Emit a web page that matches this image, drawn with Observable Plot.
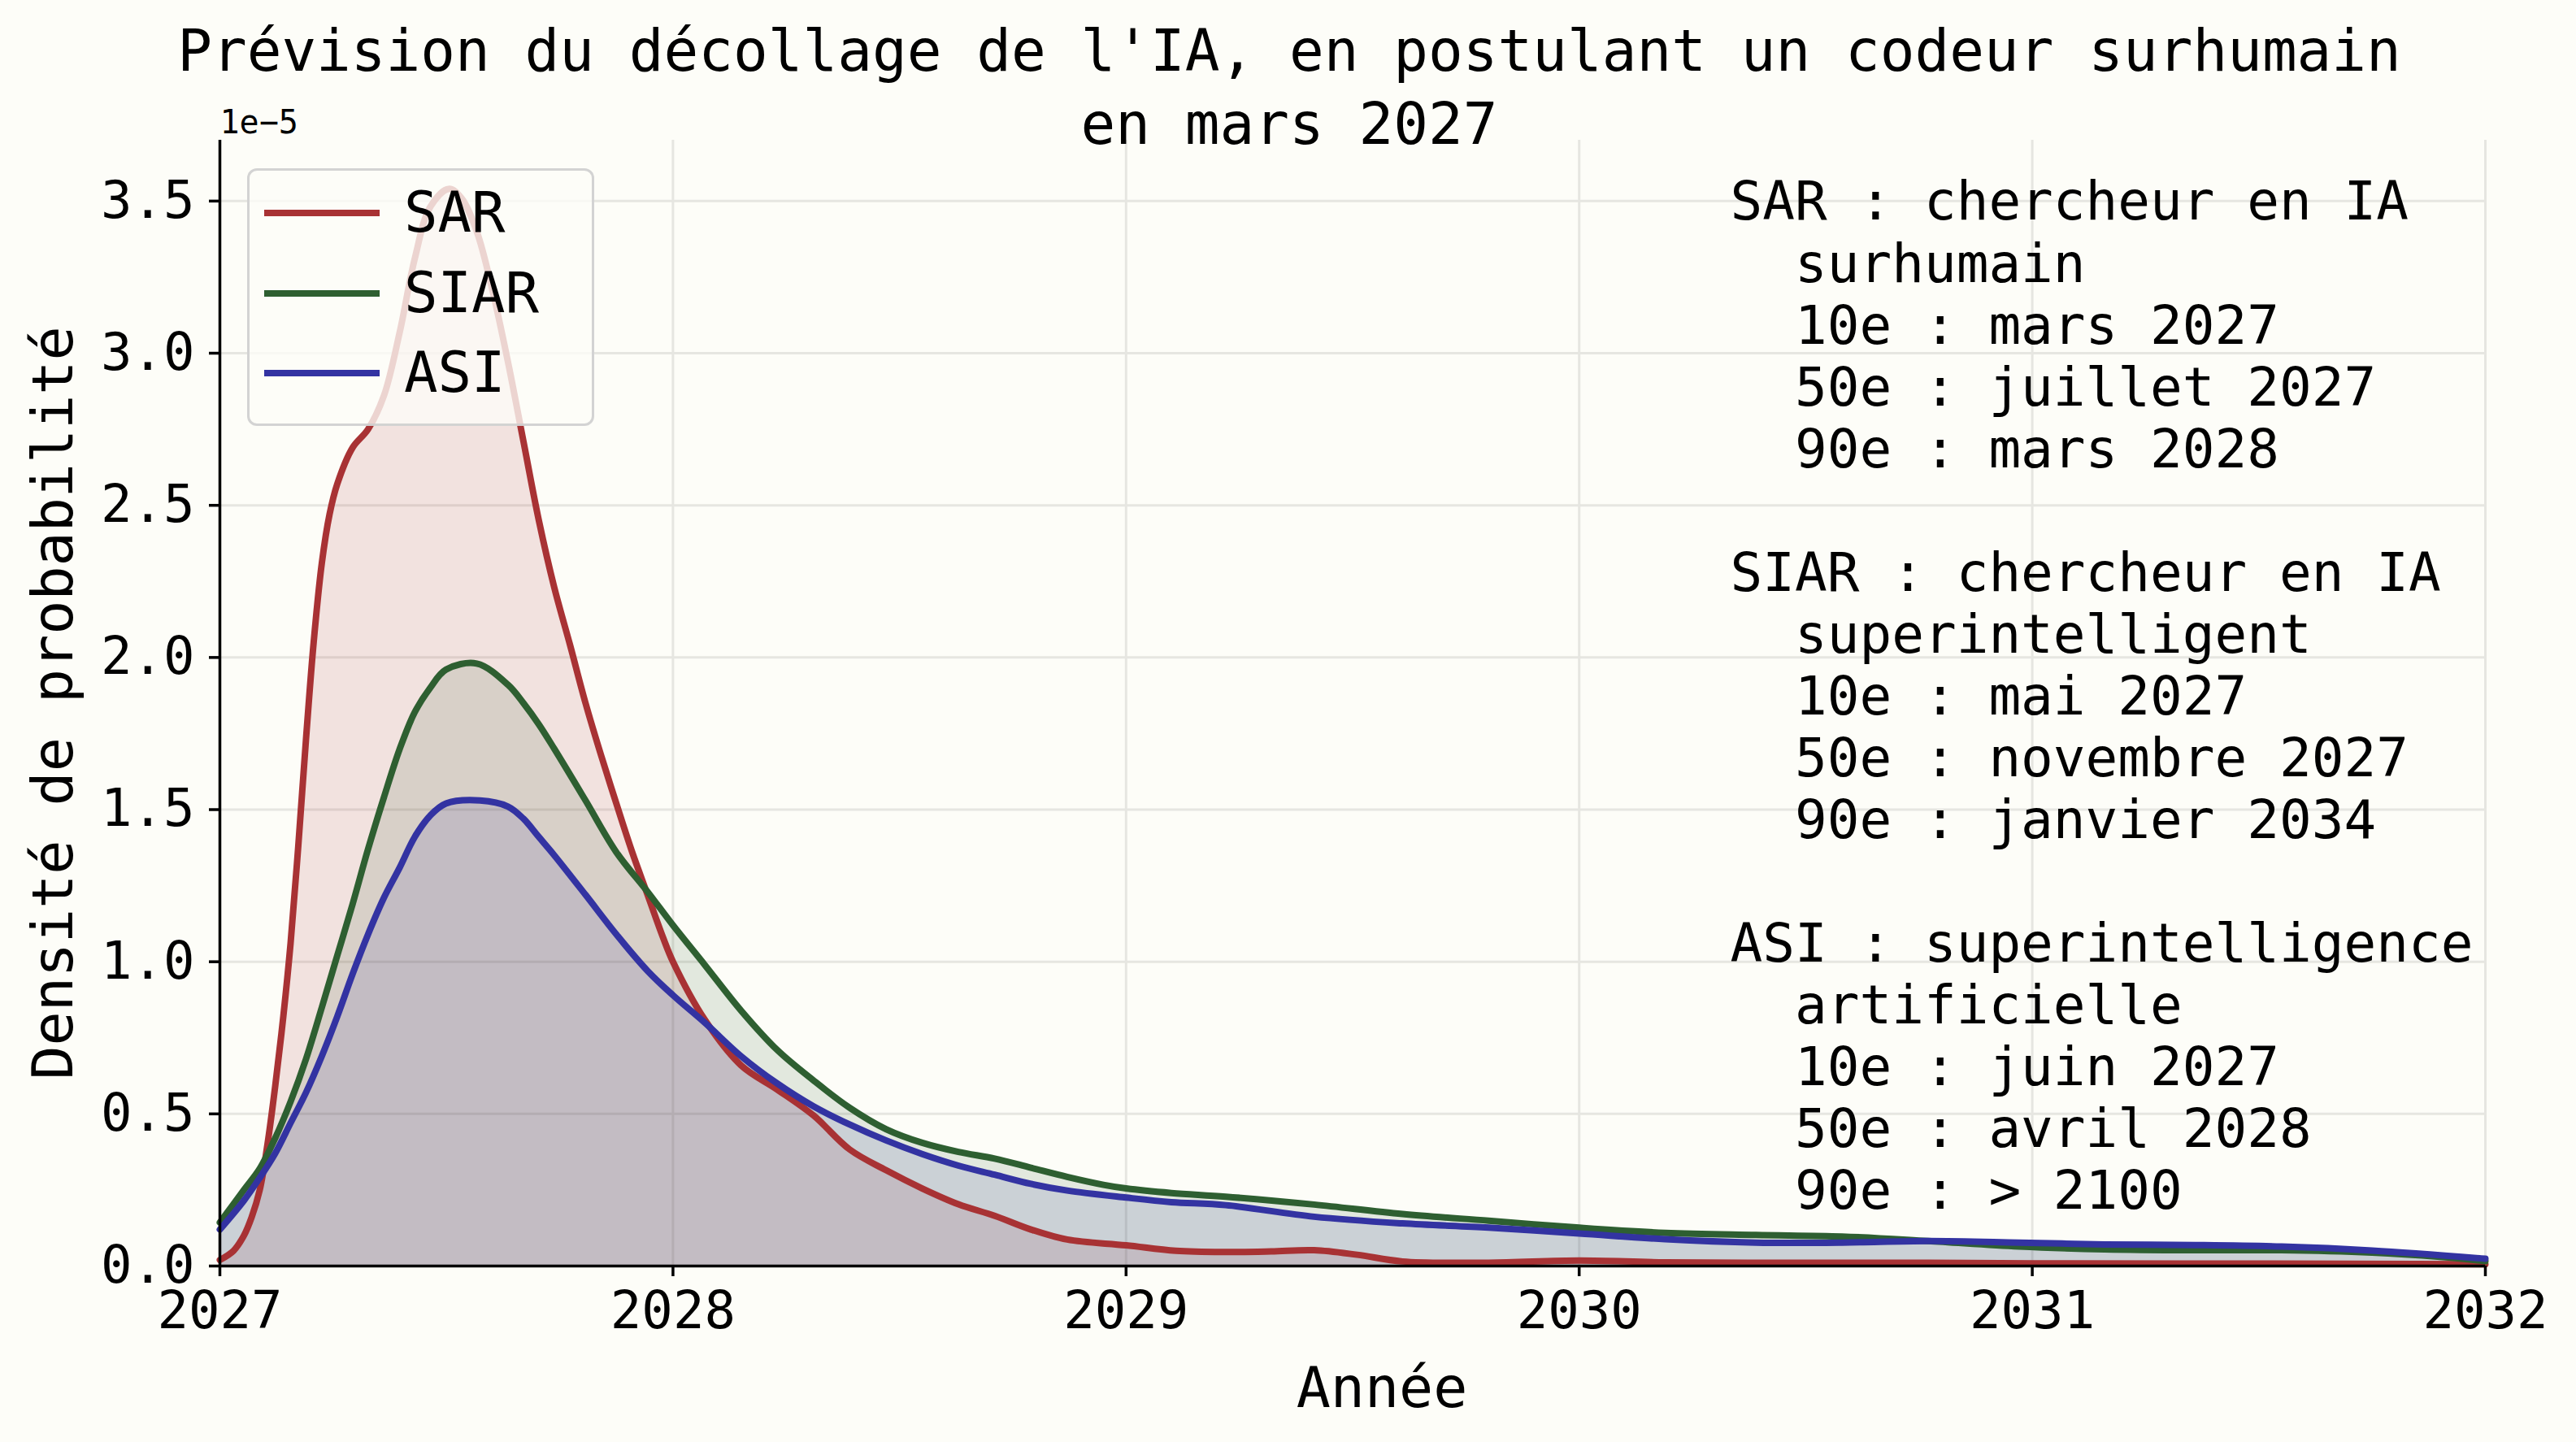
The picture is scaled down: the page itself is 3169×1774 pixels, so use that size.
<!DOCTYPE html>
<html>
<head>
<meta charset="utf-8">
<script src="https://cdn.jsdelivr.net/npm/d3@7"></script>
<script src="https://cdn.jsdelivr.net/npm/@observablehq/plot@0.6"></script>
<style>
html, body { margin: 0; padding: 0; background: #fdfdf8; }
#wrap { position: relative; width: 3169px; height: 1774px; font-family: "DejaVu Sans Mono", monospace; color: #000; }
#title { position: absolute; left: 0; top: 18px; width: 3172px; text-align: center; font-size: 71px; line-height: 90px; z-index: 3; }
#legend { position: absolute; left: 304px; top: 207px; width: 421px; height: 311px; border: 3px solid rgba(204,204,204,0.85); border-radius: 12px; background: rgba(253,253,248,0.8); z-index: 2; }
.sw { position: absolute; left: 18px; width: 142px; height: 8px; }
.lab { position: absolute; left: 190px; font-size: 69px; line-height: 69px; }
#chart { position: absolute; left: 0; top: 0; z-index: 1; }
</style>
</head>
<body>
<div id="wrap">
  <div id="title"></div>
  <div id="legend"></div>
  <div id="chart"></div>
</div>
<script>
// ---- data (density in units of 1e-5) ----
const seriesNames = ["SAR", "SIAR", "ASI"];
const seriesColors = ["#a83234", "#2e5f31", "#3333a2"];

const sarYear = [2027, 2027.03, 2027.053, 2027.07, 2027.088, 2027.105, 2027.122, 2027.14, 2027.156, 2027.173, 2027.19, 2027.207, 2027.225, 2027.242, 2027.259, 2027.293, 2027.327, 2027.362, 2027.397, 2027.43, 2027.464, 2027.505, 2027.533, 2027.567, 2027.601, 2027.636, 2027.67, 2027.704, 2027.738, 2027.773, 2027.807, 2027.841, 2027.875, 2027.91, 2027.944, 2027.978, 2028.0, 2028.07, 2028.15, 2028.23, 2028.31, 2028.39, 2028.47, 2028.55, 2028.63, 2028.71, 2028.79, 2028.87, 2029.0, 2029.11, 2029.22, 2029.32, 2029.415, 2029.51, 2029.61, 2029.8, 2030.0, 2030.19, 2030.5, 2030.77, 2031.0, 2031.5, 2032.0];
const sarDensity = [0.02, 0.05, 0.10, 0.16, 0.25, 0.40, 0.59, 0.82, 1.06, 1.38, 1.73, 2.05, 2.31, 2.47, 2.57, 2.69, 2.75, 2.86, 3.07, 3.31, 3.48, 3.54, 3.51, 3.40, 3.21, 2.97, 2.71, 2.45, 2.23, 2.04, 1.85, 1.68, 1.52, 1.36, 1.22, 1.08, 1.00, 0.81, 0.66, 0.58, 0.495, 0.383, 0.315, 0.255, 0.203, 0.165, 0.12, 0.087, 0.068, 0.05, 0.046, 0.048, 0.052, 0.037, 0.015, 0.011, 0.018, 0.012, 0.011, 0.011, 0.009, 0.008, 0.006];

const siarYear = [2027, 2027.053, 2027.088, 2027.122, 2027.156, 2027.19, 2027.225, 2027.259, 2027.293, 2027.327, 2027.362, 2027.397, 2027.43, 2027.464, 2027.499, 2027.567, 2027.636, 2027.67, 2027.704, 2027.738, 2027.807, 2027.875, 2027.944, 2028.0, 2028.07, 2028.15, 2028.23, 2028.31, 2028.39, 2028.47, 2028.55, 2028.63, 2028.71, 2028.79, 2028.87, 2028.95, 2029.0, 2029.1, 2029.22, 2029.415, 2029.61, 2029.8, 2030.0, 2030.19, 2030.39, 2030.58, 2030.77, 2030.97, 2031.16, 2031.36, 2031.55, 2031.75, 2031.9, 2032.0];
const siarDensity = [0.143, 0.25, 0.32, 0.42, 0.54, 0.68, 0.85, 1.02, 1.19, 1.37, 1.54, 1.70, 1.82, 1.90, 1.96, 1.98, 1.91, 1.85, 1.78, 1.70, 1.53, 1.36, 1.23, 1.12, 0.99, 0.84, 0.71, 0.61, 0.52, 0.45, 0.405, 0.375, 0.353, 0.323, 0.293, 0.267, 0.255, 0.24, 0.228, 0.202, 0.171, 0.149, 0.126, 0.109, 0.102, 0.097, 0.082, 0.064, 0.055, 0.052, 0.052, 0.044, 0.03, 0.016];

const asiYear = [2027, 2027.053, 2027.088, 2027.122, 2027.156, 2027.19, 2027.225, 2027.259, 2027.293, 2027.327, 2027.362, 2027.397, 2027.43, 2027.464, 2027.499, 2027.574, 2027.636, 2027.67, 2027.704, 2027.738, 2027.807, 2027.875, 2027.944, 2028.0, 2028.07, 2028.15, 2028.23, 2028.31, 2028.39, 2028.47, 2028.55, 2028.63, 2028.71, 2028.79, 2028.87, 2029.0, 2029.1, 2029.22, 2029.415, 2029.61, 2029.8, 2030.0, 2030.19, 2030.39, 2030.58, 2030.77, 2030.97, 2031.16, 2031.36, 2031.55, 2031.75, 2032.0];
const asiDensity = [0.12, 0.215, 0.29, 0.37, 0.47, 0.57, 0.69, 0.82, 0.96, 1.09, 1.21, 1.31, 1.41, 1.48, 1.52, 1.53, 1.51, 1.47, 1.41, 1.35, 1.22, 1.09, 0.97, 0.89, 0.80, 0.69, 0.60, 0.525, 0.465, 0.413, 0.368, 0.33, 0.30, 0.27, 0.248, 0.225, 0.21, 0.20, 0.162, 0.14, 0.126, 0.107, 0.088, 0.077, 0.077, 0.082, 0.077, 0.071, 0.069, 0.064, 0.051, 0.024];

const xTicks = [2027, 2028, 2029, 2030, 2031, 2032];
const yTicks = [0, 0.5, 1.0, 1.5, 2.0, 2.5, 3.0, 3.5];

const titleLines = ["Prévision du décollage de l'IA, en postulant un codeur surhumain", "en mars 2027"];
const xLabel = "Année";
const yLabel = "Densité de probabilité";
const yExponent = "1e\u22125";
const NB = "\u00A0\u00A0";
const annotationLines = [
  "SAR\u202F: chercheur en IA",
  NB + "surhumain",
  NB + "10e\u202F: mars 2027",
  NB + "50e\u202F: juillet 2027",
  NB + "90e\u202F: mars 2028",
  "",
  "SIAR\u202F: chercheur en IA",
  NB + "superintelligent",
  NB + "10e\u202F: mai 2027",
  NB + "50e\u202F: novembre 2027",
  NB + "90e\u202F: janvier 2034",
  "",
  "ASI\u202F: superintelligence",
  NB + "artificielle",
  NB + "10e\u202F: juin 2027",
  NB + "50e\u202F: avril 2028",
  NB + "90e\u202F: >\u202F2100"
];

// ---- build table ----
const rows = [];
const src = [[sarYear, sarDensity], [siarYear, siarDensity], [asiYear, asiDensity]];
src.forEach(([xs, ys], i) => xs.forEach((x, j) => rows.push({series: seriesNames[i], year: x, base: 0, density: ys[j]})));

const fontMono = "DejaVu Sans Mono";

const chart = Plot.plot({
  width: 3169,
  height: 1774,
  marginLeft: 270,
  marginRight: 112,
  marginTop: 172,
  marginBottom: 217,
  style: {background: "#fdfdf8", fontFamily: fontMono, fontSize: "64px", color: "#000", overflow: "visible"},
  x: {domain: [2027, 2032]},
  y: {domain: [0, 3.7]},
  color: {domain: seriesNames, range: seriesColors},
  marks: [
    Plot.gridX(xTicks, {stroke: "#e6e6e1", strokeOpacity: 1, strokeWidth: 3}),
    Plot.gridY(yTicks, {stroke: "#e6e6e1", strokeOpacity: 1, strokeWidth: 3}),
    Plot.areaY(rows, {x: "year", y1: "base", y2: "density", z: "series", fill: "series", fillOpacity: 0.13, curve: "catmull-rom"}),
    Plot.lineY(rows, {x: "year", y: "density", z: "series", stroke: "series", strokeWidth: 8, curve: "catmull-rom"}),
    Plot.axisX(xTicks, {tickSize: 13, tickPadding: 18, strokeWidth: 3.5, stroke: "#000", fontSize: 64, tickFormat: d => String(d), label: null}),
    Plot.axisY(yTicks, {tickSize: 13, tickPadding: 18, strokeWidth: 3.5, stroke: "#000", fontSize: 64, tickFormat: d3.format(".1f"), label: null}),
    Plot.ruleX([2027], {stroke: "#000", strokeWidth: 3.5}),
    Plot.ruleY([0], {stroke: "#000", strokeWidth: 3.5}),
    Plot.text([xLabel], {frameAnchor: "bottom", dx: 36, dy: 151, fontSize: 70, lineAnchor: "middle"}),
    Plot.text([yLabel], {frameAnchor: "left", textAnchor: "middle", dx: -204, rotate: -90, fontSize: 70, lineAnchor: "middle"}),
    Plot.text([yExponent], {frameAnchor: "top-left", textAnchor: "start", lineAnchor: "bottom", dy: -9, fontSize: 40}),
    Plot.text([annotationLines.join("\n")], {frameAnchor: "top-left", textAnchor: "start", lineAnchor: "top", dx: 1858, dy: 44, fontSize: 66, lineHeight: 1.152})
  ]
});
document.getElementById("chart").appendChild(chart);

// ---- title ----
const title = document.getElementById("title");
titleLines.forEach((t, i) => {
  if (i) title.appendChild(document.createElement("br"));
  title.appendChild(document.createTextNode(t));
});

// ---- legend ----
const legend = document.getElementById("legend");
const legendY = [52, 151, 249];
seriesNames.forEach((name, i) => {
  const sw = document.createElement("div");
  sw.className = "sw";
  sw.style.top = (legendY[i] - 4) + "px";
  sw.style.background = seriesColors[i];
  legend.appendChild(sw);
  const lab = document.createElement("div");
  lab.className = "lab";
  lab.style.top = (legendY[i] - 35) + "px";
  lab.textContent = name;
  legend.appendChild(lab);
});
</script>
</body>
</html>
